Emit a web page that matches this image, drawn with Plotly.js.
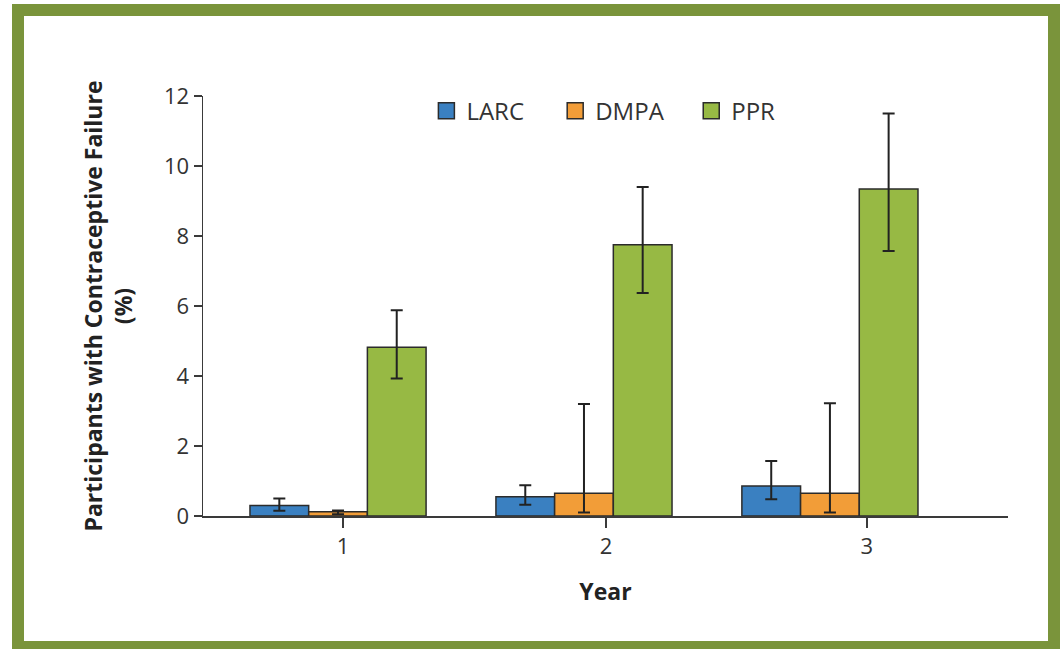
<!DOCTYPE html>
<html>
<head>
<meta charset="utf-8">
<script src="https://cdn.plot.ly/plotly-3.0.1.min.js"></script>
<style>
  html, body { margin: 0; padding: 0; background: #ffffff; overflow: hidden; }
  #wrap { position: relative; width: 1062px; height: 649px; }
  #chart { position: absolute; left: 0; top: 0; width: 1062px; height: 649px; }
  #frame { position: absolute; left: 12px; top: 4px; width: 1048px; height: 649px;
           box-sizing: border-box; border: 12px solid #7a943b; pointer-events: none; }
</style>
</head>
<body>
<div id="wrap">
  <div id="chart"></div>
  <div id="frame"></div>
</div>
<script>
// ---- data ----
var years = [1, 2, 3];
var yearLabels = ['1', '2', '3'];
var yearTickPositions = [1.02, 2.09, 3.15];

var larcValues = [0.30, 0.55, 0.86];
var larcUpper  = [0.50, 0.88, 1.57];
var larcLower  = [0.15, 0.32, 0.48];

var dmpaValues = [0.12, 0.65, 0.65];
var dmpaUpper  = [0.16, 3.20, 3.22];
var dmpaLower  = [0.05, 0.10, 0.10];

var pprValues  = [4.82, 7.75, 9.34];
var pprUpper   = [5.88, 9.40, 11.50];
var pprLower   = [3.93, 6.37, 7.57];

var seriesNames  = ['LARC', 'DMPA', 'PPR'];
var seriesColors = ['#3a80c1', '#f29d38', '#97b944'];

var yTickValues = [0, 2, 4, 6, 8, 10, 12];

// ---- build traces ----
function minus(a, b) { return a.map(function (v, i) { return +(v - b[i]).toFixed(3); }); }

var seriesData = [
  [larcValues, larcUpper, larcLower],
  [dmpaValues, dmpaUpper, dmpaLower],
  [pprValues,  pprUpper,  pprLower]
];

var legendIds = ['legend', 'legend2', 'legend3'];
var legendX = [0.2775, 0.4375, 0.6065];

var traces = [];
seriesData.forEach(function (s, i) {
  traces.push({
    type: 'bar',
    name: seriesNames[i],
    x: years,
    y: s[0],
    showlegend: false,
    marker: { color: seriesColors[i], line: { color: '#2b2b2b', width: 1.5 } },
    error_y: {
      type: 'data', symmetric: false,
      array: minus(s[1], s[0]),
      arrayminus: minus(s[0], s[2]),
      color: '#222222', thickness: 2, width: 6
    },
    hoverinfo: 'skip'
  });
});
// legend entries (square swatches)
seriesNames.forEach(function (n, i) {
  traces.push({
    type: 'scatter', mode: 'markers', name: n, legend: legendIds[i],
    x: [null], y: [null],
    marker: { symbol: 'square', size: 16, color: seriesColors[i],
              line: { color: '#2b2b2b', width: 1.5 } },
    hoverinfo: 'skip'
  });
});

function legendBox(x) {
  return {
    orientation: 'h', x: x, xanchor: 'left', y: 0.964, yanchor: 'middle',
    font: { family: '"Open Sans", sans-serif', size: 24, color: '#333333' },
    bgcolor: 'rgba(0,0,0,0)', itemclick: false, itemdoubleclick: false
  };
}

var layout = {
  width: 1062, height: 649,
  margin: { l: 203, r: 54, t: 96, b: 133, pad: 0 },
  paper_bgcolor: '#ffffff', plot_bgcolor: '#ffffff',
  font: { family: '"Open Sans", "Noto Sans", sans-serif', color: '#333333', size: 22 },
  barmode: 'group', bargap: 0.284, bargroupgap: 0,
  showlegend: true,
  legend: legendBox(legendX[0]),
  legend2: legendBox(legendX[1]),
  legend3: legendBox(legendX[2]),
  xaxis: {
    type: 'linear', range: [0.451, 3.724], fixedrange: true,
    tickmode: 'array', tickvals: yearTickPositions, ticktext: yearLabels,
    ticks: 'outside', ticklen: 10, tickwidth: 1.5, tickcolor: '#3a3a3a',
    showline: true, linecolor: '#3a3a3a', linewidth: 2,
    showgrid: false, zeroline: false,
    tickfont: { size: 22, color: '#333333' },
    title: { text: 'Year', standoff: 24,
             font: { family: '"Open Sans", sans-serif', size: 23, color: '#222222', weight: 'bold' } }
  },
  yaxis: {
    range: [0, 12], fixedrange: true,
    tickmode: 'array', tickvals: yTickValues,
    ticks: 'outside', ticklen: 8, tickwidth: 1.5, tickcolor: '#3a3a3a',
    showline: true, linecolor: '#3a3a3a', linewidth: 1.5,
    showgrid: false, zeroline: false,
    tickfont: { size: 22, color: '#333333' },
    title: { text: 'Participants with Contraceptive Failure<br>(%)', standoff: 25,
             font: { family: '"Open Sans", sans-serif', size: 23, color: '#222222', weight: 'bold' } }
  }
};

Plotly.newPlot('chart', traces, layout, { displayModeBar: false, staticPlot: true });
</script>
</body>
</html>
